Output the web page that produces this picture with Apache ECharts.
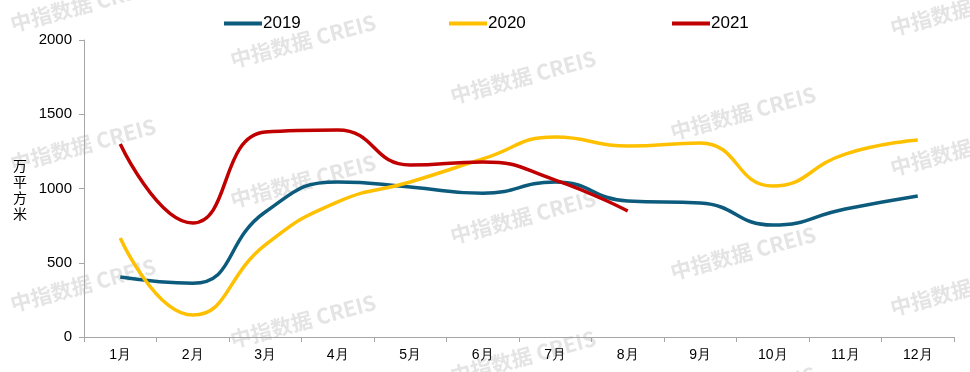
<!DOCTYPE html>
<html><head><meta charset="utf-8">
<script src="https://cdn.jsdelivr.net/npm/echarts@6/dist/echarts.min.js"></script>
<style>html,body{margin:0;padding:0;background:#fff}#c{width:970px;height:372px}</style>
</head><body><div id="c"></div>
<script>
const categories = ['1月','2月','3月','4月','5月','6月','7月','8月','9月','10月','11月','12月'];
const s2019 = [404, 362, 842, 1044, 1010, 968, 1044, 916, 902, 754, 862, 950];
const s2020 = [667, 148, 620, 910, 1044, 1199, 1347, 1286, 1307, 1017, 1232, 1327];
const s2021 = [1300, 768, 1380, 1394, 1158, 1179, 1057, 848];
const yTicks = [0, 500, 1000, 1500, 2000];
const seriesNames = ['2019', '2020', '2021'];
const colors = ['#0D5B7C', '#FFC000', '#C00000'];

const wm = [];
const colX = [83, 303, 523, 743, 963];
for (let c = 0; c < colX.length; c++) {
  for (let r = -1; r < 4; r++) {
    const y = 5 + c * 36 + r * 140;
    if (y < -40 || y > 410) continue;
    wm.push({
      type: 'text', x: colX[c], y: y, rotation: 15 * Math.PI / 180, z: -10, silent: true,
      style: { text: '中指数据 CREIS', fill: '#e4e4e4', font: 'bold 21px "Noto Sans CJK SC", sans-serif', align: 'center', verticalAlign: 'middle' }
    });
  }
}
wm.push({
  type: 'text', x: 20, y: 190, silent: true,
  style: { text: '万\n平\n方\n米', fill: '#000', font: '14px "Noto Sans CJK SC", sans-serif', align: 'center', verticalAlign: 'middle', lineHeight: 16 }
});

const legendLeft = [219, 444, 667];
const chart = echarts.init(document.getElementById('c'));
chart.setOption({
  animation: false,
  color: colors,
  graphic: wm,
  legend: seriesNames.map((n, i) => ({
    top: 10, left: legendLeft[i], itemWidth: 38, itemHeight: 4, icon: 'rect',
    textStyle: { fontSize: 17, fontFamily: 'Liberation Sans, Arial', color: '#000', padding: [0, 0, 0, -4] },
    data: [n]
  })),
  grid: { left: 84, right: 16, top: 40, bottom: 35 },
  xAxis: {
    type: 'category', data: categories, boundaryGap: true,
    axisLine: { lineStyle: { color: '#a6a6a6', width: 1 } },
    axisTick: { show: true, length: 5, lineStyle: { color: '#a6a6a6' } },
    axisLabel: { color: '#000', fontSize: 14, fontFamily: 'Liberation Sans, Arial', margin: 11 }
  },
  yAxis: {
    type: 'value', min: yTicks[0], max: yTicks[yTicks.length - 1], interval: 500,
    splitLine: { show: false },
    axisLine: { show: true, lineStyle: { color: '#a6a6a6', width: 1 } },
    axisTick: { show: true, length: 5, lineStyle: { color: '#a6a6a6' } },
    axisLabel: { color: '#000', fontSize: 15, fontFamily: 'Liberation Sans, Arial', margin: 12, formatter: v => String(v) }
  },
  series: [s2019, s2020, s2021].map((d, i) => ({
    name: seriesNames[i], type: 'line', data: d, smooth: 0.5, symbol: 'none',
    lineStyle: { width: 3.5, color: colors[i] }, z: 2 + i
  }))
});
</script></body></html>
